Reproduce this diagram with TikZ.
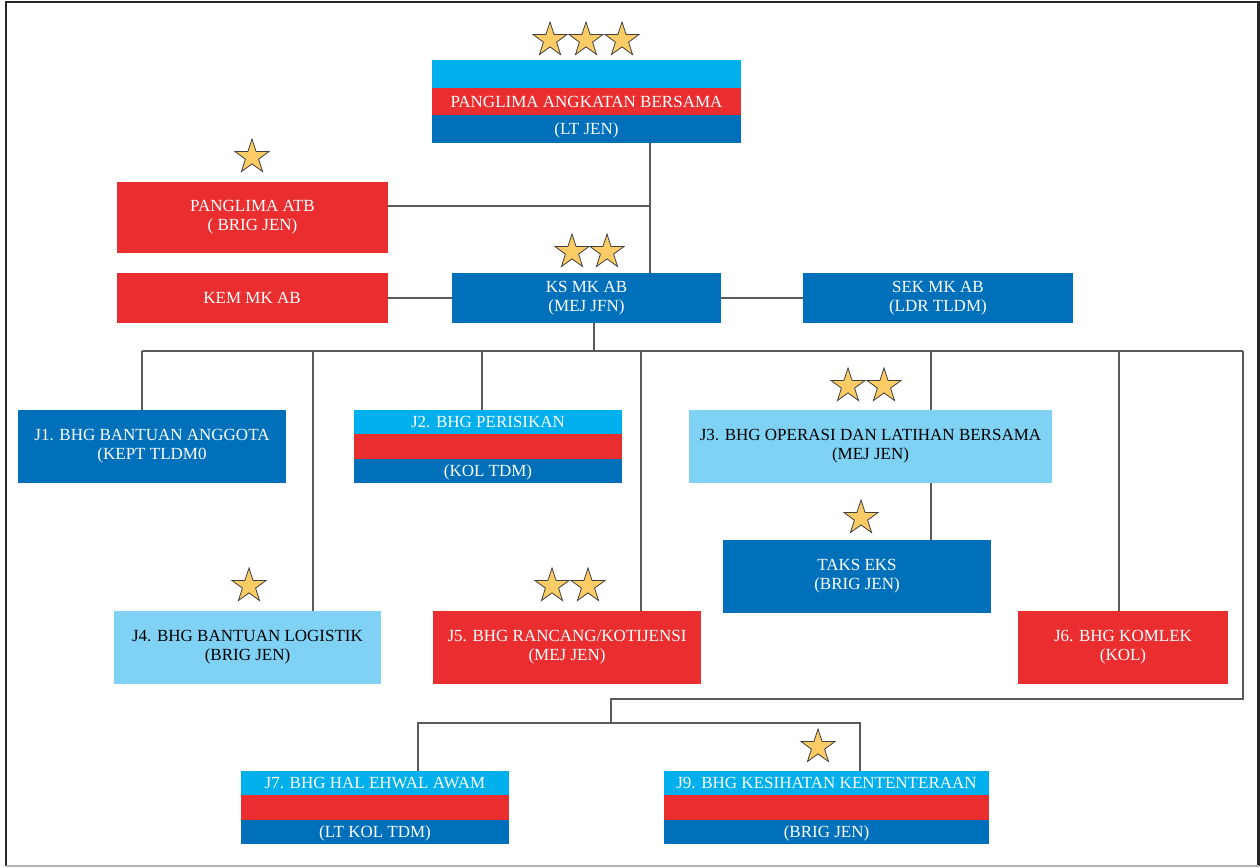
\documentclass[tikz,border=0pt]{standalone}
\usepackage{fontspec}
\setmainfont{Liberation Serif}
\usepackage{xcolor}
\usetikzlibrary{positioning, shapes.geometric, calc}

\definecolor{abcyan}{RGB}{0,176,236}
\definecolor{abred}{RGB}{234,46,48}
\definecolor{abblue}{RGB}{0,112,186}
\definecolor{ablight}{RGB}{128,210,245}
\definecolor{stargold}{RGB}{251,203,102}
\definecolor{linegrey}{RGB}{90,90,90}

\begin{document}
\begin{tikzpicture}[
    x=1pt, y=-1pt,
    font=\fontsize{17}{19}\selectfont,
    every node/.style={inner sep=2pt},
    orgbox/.style={minimum width=268pt, minimum height=73pt, align=center, text=white},
    redbox/.style={orgbox, fill=abred},
    bluebox/.style={orgbox, fill=abblue},
    lightbox/.style={orgbox, fill=ablight, text=black},
    tribox/.style={orgbox, fill=abblue, path picture={
        \fill[abcyan] (path picture bounding box.north west) rectangle
              ($(path picture bounding box.north east)!1/3!(path picture bounding box.south east)$);
        \fill[abred] ($(path picture bounding box.north west)!1/3!(path picture bounding box.south west)$) rectangle
              ($(path picture bounding box.north east)!2/3!(path picture bounding box.south east)$);
        \fill[abblue] ($(path picture bounding box.north west)!2/3!(path picture bounding box.south west)$) rectangle
              (path picture bounding box.south east);
    }},
    bandtxt/.style={text=white, inner sep=0pt, text height=11.3pt, text depth=0pt},
    rankstar/.style={star, star points=5, star point ratio=2.6, minimum size=36pt,
                     inner sep=0pt, fill=stargold, draw=black!75, line width=0.8pt},
    wire/.style={draw=linegrey, line width=1.2pt},
]
\useasboundingbox (0,0) rectangle (1260,867);

% --------- Frame ----------
\draw[line width=2.2pt, black!85] (6,866) -- (6,2) -- (1258.5,2) -- (1258.5,866);
\draw[line width=1.5pt, black!30] (6,866) -- (1258.5,866);

% --------- Top level ----------
\node[tribox, minimum width=309pt, minimum height=83pt] (pab) at (586.5,101.5) {};
\node[bandtxt] (pabname) at (pab.center) {PANGLIMA ANGKATAN BERSAMA};
\node[bandtxt] (pabrank) at ($(pab.north)!5/6!(pab.south)$) {(LT JEN)};

\node[redbox, minimum width=271pt, minimum height=71pt] (atb) at (252.5,217.5) {PANGLIMA ATB\\( BRIG JEN)};

\node[bluebox, minimum width=269pt, minimum height=50pt] (ksmk) at (586.5,298) {KS MK AB\\(MEJ JFN)};
\node[redbox,  minimum width=271pt, minimum height=50pt, left=64pt of ksmk]   (kem) {KEM MK AB};
\node[bluebox, minimum width=270pt, minimum height=50pt, right=81.5pt of ksmk] (sek) {SEK MK AB\\(LDR TLDM)};

% --------- J row ----------
\node[bluebox]  (j1) at (152,446.5) {J1. BHG BANTUAN ANGGOTA\\(KEPT TLDM0};
\node[tribox]   (j2) at (488,446.5) {};
\node[bandtxt]  (j2name) at ($(j2.north)!1/6!(j2.south)$) {J2. BHG PERISIKAN};
\node[bandtxt]  (j2rank) at ($(j2.north)!5/6!(j2.south)$) {(KOL TDM)};
\node[lightbox, minimum width=363pt] (j3) at (870.5,446.5) {J3. BHG OPERASI DAN LATIHAN BERSAMA\\(MEJ JEN)};
\node[bluebox]  (taks) at (857,576.5) {TAKS EKS\\(BRIG JEN)};

\node[lightbox, minimum width=267pt] (j4) at (247.5,647.5) {J4. BHG BANTUAN LOGISTIK\\(BRIG JEN)};
\node[redbox]   (j5) at (567,647.5) {J5. BHG RANCANG/KOTIJENSI\\(MEJ JEN)};
\node[redbox, minimum width=210pt] (j6) at (1123,647.5) {J6. BHG KOMLEK\\(KOL)};

\node[tribox]   (j7) at (375,807.5) {};
\node[bandtxt]  (j7name) at ($(j7.north)!1/6!(j7.south)$) {J7. BHG HAL EHWAL AWAM};
\node[bandtxt]  (j7rank) at ($(j7.north)!5/6!(j7.south)$) {(LT KOL TDM)};
\node[tribox, minimum width=325pt] (j9) at (826.5,807.5) {};
\node[bandtxt]  (j9name) at ($(j9.north)!1/6!(j9.south)$) {J9. BHG KESIHATAN KENTENTERAAN};
\node[bandtxt]  (j9rank) at ($(j9.north)!5/6!(j9.south)$) {(BRIG JEN)};

% --------- Stars ----------
\node[rankstar] (pabs1) at (550,40) {};
\node[rankstar] (pabs2) at (586,40) {};
\node[rankstar] (pabs3) at (622,40) {};
\node[rankstar] (atbs1) at (252,157) {};
\node[rankstar] (kss1)  at (572,252) {};
\node[rankstar] (kss2)  at (607,252) {};
\node[rankstar] (j3s1)  at (848,386) {};
\node[rankstar] (j3s2)  at (884,386) {};
\node[rankstar] (takss1) at (861,518) {};
\node[rankstar] (j4s1)  at (249,586) {};
\node[rankstar] (j5s1)  at (552,586) {};
\node[rankstar] (j5s2)  at (588,586) {};
\node[rankstar] (j9s1)  at (818,747) {};

% --------- Connectors ----------
\draw[wire] ($(pab.south)+(63.5,0)$) -- ($(ksmk.north)+(63.5,0)$);
\coordinate (atbjoin) at (650,206);
\draw[wire] (atbjoin) -- (atbjoin -| atb.east);
\draw[wire] (kem) -- (ksmk);
\draw[wire] (ksmk) -- (sek);

% bus under KS MK AB
\coordinate (busL) at (142,351);
\coordinate (busR) at (1243,351);
\draw[wire] (busL) -- (busR);
\draw[wire] ($(ksmk.south)+(7.5,0)$) coordinate (ksdrop) -- (ksdrop |- busL);
\draw[wire] (j1.north) ++(-10,0)  coordinate (d1) -- (d1 |- busL);
\draw[wire] (j4.north) ++(65.5,0) coordinate (d4) -- (d4 |- busL);
\draw[wire] (j2.north) ++(-6,0)   coordinate (d2) -- (d2 |- busL);
\draw[wire] (j5.north) ++(74,0)   coordinate (d5) -- (d5 |- busL);
\draw[wire] (j3.north) ++(60.5,0) coordinate (d3) -- (d3 |- busL);
\draw[wire] (j6.north) ++(-4,0)   coordinate (d6) -- (d6 |- busL);
\draw[wire] (j3.south) ++(60.5,0) coordinate (d3b) -- (d3b |- taks.north);

% loop down to J7 / J9
\coordinate (lowjoin) at (611,699);
\coordinate (lowbus) at (611,723);
\draw[wire] (busR) |- (lowjoin) -- (lowbus);
\draw[wire] (j7.north) ++(43,0)   coordinate (d7) |- (lowbus);
\draw[wire] (j9.north) ++(33.5,0) coordinate (d9) |- (lowbus);

\end{tikzpicture}
\end{document}
